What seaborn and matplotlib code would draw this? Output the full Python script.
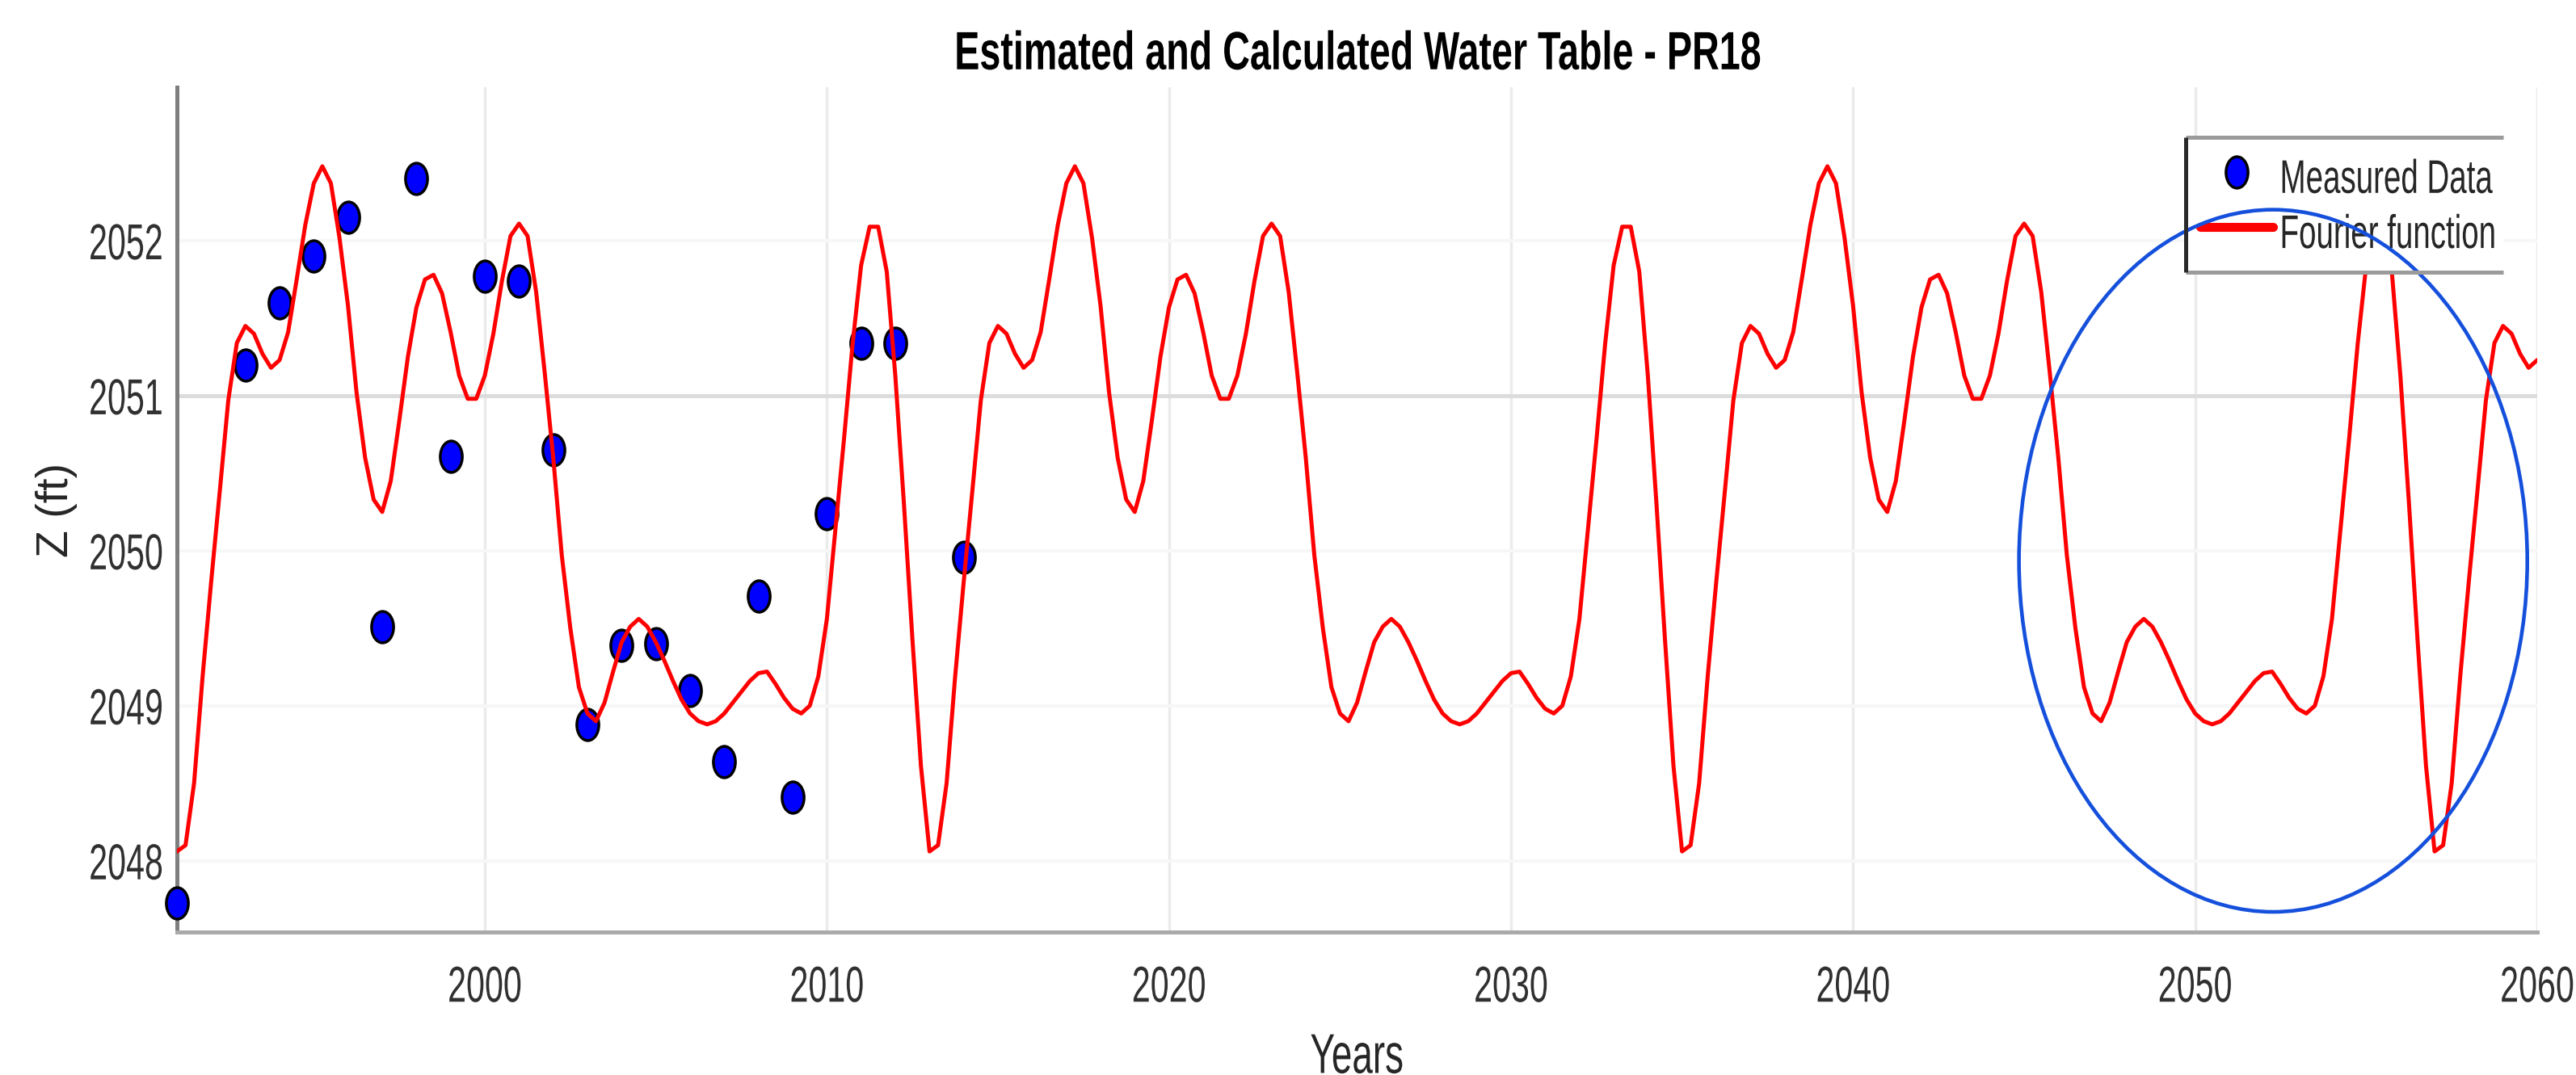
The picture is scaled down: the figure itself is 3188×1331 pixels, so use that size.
import numpy as np
import matplotlib
matplotlib.use("Agg")
import matplotlib.pyplot as plt
import seaborn as sns
from matplotlib.patches import Ellipse
from matplotlib.path import Path
from matplotlib.lines import Line2D
from matplotlib.transforms import Affine2D, Bbox
from matplotlib.patheffects import AbstractPathEffect

############################################################################
# Data
measured_years = [1991, 1993, 1994, 1995, 1996, 1997, 1998, 1999, 2000, 2001, 2002,
                  2003, 2004, 2005, 2006, 2007, 2008, 2009, 2010, 2011, 2012, 2014]
measured_z = [2047.73, 2051.20, 2051.60, 2051.90, 2052.15, 2049.51, 2052.40, 2050.61,
              2051.77, 2051.74, 2050.65, 2048.88, 2049.39, 2049.40, 2049.10, 2048.64,
              2049.71, 2048.41, 2050.24, 2051.34, 2051.34, 2049.96]

# Fourier curve: one 22-year cycle read every quarter year (2013.00 ... 2034.75);
# the curve repeats this cycle from 1991 to 2060
fourier_start, fourier_end, fourier_step = 1991.0, 2060.0, 0.25
fourier_cycle_z = [
    2048.06, 2048.10, 2048.50, 2049.19, 2049.80, 2050.38, 2050.97, 2051.34,
    2051.45, 2051.40, 2051.27, 2051.18, 2051.23, 2051.41, 2051.75, 2052.10,
    2052.37, 2052.48, 2052.37, 2052.02, 2051.58, 2051.02, 2050.60, 2050.33,
    2050.25, 2050.45, 2050.84, 2051.25, 2051.57, 2051.75, 2051.78, 2051.66,
    2051.41, 2051.13, 2050.98, 2050.98, 2051.13, 2051.40, 2051.74, 2052.03,
    2052.11, 2052.03, 2051.67, 2051.15, 2050.60, 2049.97, 2049.50, 2049.12,
    2048.95, 2048.90, 2049.02, 2049.22, 2049.41, 2049.51, 2049.56, 2049.51,
    2049.41, 2049.29, 2049.16, 2049.04, 2048.95, 2048.90, 2048.88, 2048.90,
    2048.95, 2049.02, 2049.09, 2049.16, 2049.21, 2049.22, 2049.14, 2049.05,
    2048.98, 2048.95, 2049.00, 2049.19, 2049.56, 2050.14, 2050.72, 2051.33,
    2051.84, 2052.09, 2052.09, 2051.80, 2051.13, 2050.31, 2049.43, 2048.61,
]
fourier_years = np.arange(fourier_start, fourier_end + fourier_step / 2, fourier_step)
fourier_z = np.resize(fourier_cycle_z, len(fourier_years))

x_ticks = [2000, 2010, 2020, 2030, 2040, 2050, 2060]
y_ticks = [2048, 2049, 2050, 2051, 2052]
x_range = (1991, 2060)
y_range = (2047.54, 2052.99)

title = "Estimated and Calculated Water Table - PR18"
x_label = "Years"
y_label = "Z (ft)"
legend_labels = ["Measured Data", "Fourier function"]

# highlight ellipse (center year, center Z, width in years, height in ft)
circle_center = (2052.28, 2049.935)
circle_size = (14.86, 4.53)

############################################################################
# the source image is squeezed sideways, so text glyphs are narrowed too
SX = 0.66


class Squeeze(AbstractPathEffect):
    def __init__(self, sx=SX, anchor="center"):
        super().__init__()
        self._sx = sx
        self._anchor = anchor

    def draw_path(self, renderer, gc, tpath, affine, rgbFace=None):
        ext = tpath.get_extents(affine)
        if self._anchor == "left":
            x0 = ext.x0
        elif self._anchor == "right":
            x0 = ext.x1
        else:
            x0 = 0.5 * (ext.x0 + ext.x1)
        squeeze = Affine2D().translate(-x0, 0).scale(self._sx, 1.0).translate(x0, 0)
        renderer.draw_path(gc, tpath, affine + squeeze, rgbFace)


def squeeze_text(text, anchor="center", sx=SX):
    # narrow the glyphs and report the narrowed box as the text extent
    text.set_path_effects([Squeeze(sx=sx, anchor=anchor)])
    orig = text.get_window_extent

    def extent(renderer=None, dpi=None):
        bb = orig(renderer, dpi)
        if anchor == "left":
            x0 = bb.x0
        elif anchor == "right":
            x0 = bb.x1
        else:
            x0 = 0.5 * (bb.x0 + bb.x1)
        return Bbox.from_extents(x0 + (bb.x0 - x0) * sx, bb.y0,
                                 x0 + (bb.x1 - x0) * sx, bb.y1)

    text.get_window_extent = extent


sns.set_theme(style="white")
plt.rcParams["font.family"] = ["Liberation Sans", "DejaVu Sans"]

fig = plt.figure(figsize=(31.88, 13.31), dpi=100)
ax = fig.add_axes([0.0687, 0.1330, 0.91624, 0.78586])

tall_dot = Affine2D().scale(0.7, 1.0).transform_path(Path.unit_circle())

sns.scatterplot(x=measured_years, y=measured_z, marker=tall_dot, s=784,
                color="#0000ff", edgecolor="black", linewidth=2.5,
                clip_on=False, zorder=3, legend=False, ax=ax)
sns.lineplot(x=fourier_years, y=fourier_z, color="#ff0000", linewidth=3.6,
             zorder=4, legend=False, ax=ax)

ax.set_xlim(*x_range)
ax.set_ylim(*y_range)
ax.set_xticks(x_ticks)
ax.set_yticks(y_ticks)
ax.set_xticklabels([str(v) for v in x_ticks])
ax.set_yticklabels([str(v) for v in y_ticks])

# grid: vertical faint, horizontal almost invisible, 2051 line darker
ax.set_axisbelow(True)
ax.grid(axis="x", color="#ebebeb", linewidth=2.5)
ax.grid(axis="y", color="#f7f7f7", linewidth=3)
ax.axhline(y_ticks[3], color="#dcdcdc", linewidth=3.5, zorder=0.8)

for side in ["top", "right"]:
    ax.spines[side].set_visible(False)
ax.spines["left"].set_color("#7f7f7f")
ax.spines["left"].set_linewidth(3.6)
ax.spines["bottom"].set_color("#aaaaaa")
ax.spines["bottom"].set_linewidth(3.6)

ax.tick_params(axis="x", direction="in", length=29, width=2.5, color="#999999",
               pad=29, labelsize=45, labelcolor="#303030")
ax.tick_params(axis="y", direction="in", length=23, width=2.5, color="#dddddd",
               pad=11.5, labelsize=45, labelcolor="#303030")
for tick, val in zip(ax.yaxis.get_major_ticks(), y_ticks):
    if val == 2051:
        tick.tick1line.set_color("#333333")

for lbl in ax.get_xticklabels():
    squeeze_text(lbl, "center")
for lbl in ax.get_yticklabels():
    squeeze_text(lbl, "right")

ax.set_title(title, fontsize=48, fontweight="bold", color="black", pad=16)
squeeze_text(ax.title, "center", sx=0.70)

ax.set_xlabel(x_label, fontsize=50, color="#262626")
ax.xaxis.set_label_coords(0.5, -0.119)
squeeze_text(ax.xaxis.label, "center")

ax.set_ylabel(y_label, fontsize=40, color="#262626", rotation=90)
ax.yaxis.label.set_va("center")
ax.yaxis.set_label_coords(-0.051, 0.5)

# legend
h_data = Line2D([], [], linestyle="none", marker=tall_dot, markersize=28,
                markerfacecolor="#0000ff", markeredgecolor="black",
                markeredgewidth=2.5, label=legend_labels[0])
h_fit = Line2D([], [], color="#ff0000", linewidth=8, label=legend_labels[1])
leg = ax.legend(handles=[h_data, h_fit], loc="upper left",
                bbox_to_anchor=(0.8485, 0.3, 0.1233, 0.5723),
                bbox_transform=fig.transFigure, mode="expand", borderaxespad=0,
                fontsize=42, handlelength=1.55, handleheight=1.3,
                handletextpad=0.12, borderpad=0.3, labelspacing=0.08,
                frameon=True, fancybox=False, framealpha=1,
                facecolor="white", edgecolor="none")
for t in leg.get_texts():
    t.set_color("#262626")
    squeeze_text(t, "left")

circle = Ellipse(circle_center, circle_size[0], circle_size[1], fill=False,
                 edgecolor="#1550dc", linewidth=3.3, zorder=6, clip_on=False)
ax.add_patch(circle)

# legend border: grey top/bottom, dark left side
fig.canvas.draw()
bb = leg.get_frame().get_window_extent().transformed(fig.transFigure.inverted())
fig.add_artist(Line2D([bb.x0, bb.x1], [bb.y1, bb.y1], transform=fig.transFigure,
                      color="#9b9b9b", linewidth=3.6, solid_capstyle="butt"))
fig.add_artist(Line2D([bb.x0, bb.x1], [bb.y0, bb.y0], transform=fig.transFigure,
                      color="#9b9b9b", linewidth=3.6, solid_capstyle="butt"))
fig.add_artist(Line2D([bb.x0, bb.x0], [bb.y0, bb.y1], transform=fig.transFigure,
                      color="#2a2a2a", linewidth=3.6, solid_capstyle="butt"))

fig.savefig("out.png", dpi=100)
